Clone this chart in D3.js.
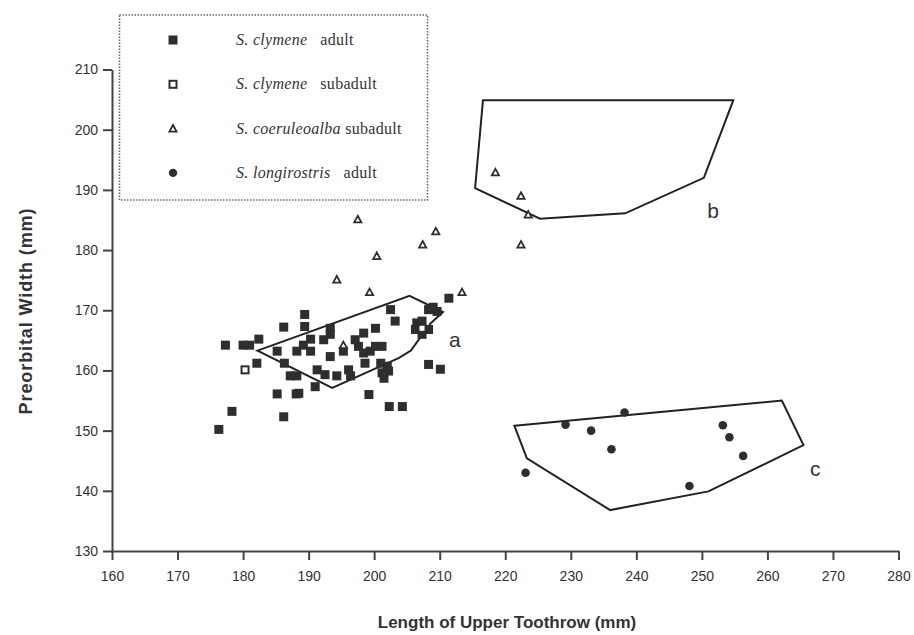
<!DOCTYPE html>
<html>
<head>
<meta charset="utf-8">
<script src="https://cdn.jsdelivr.net/npm/d3@7"></script>
<style>
  body { margin: 0; background: #fff; }
  #chart-container { width: 914px; height: 635px; }
  .axis text { font-family: Arial, "Liberation Sans", sans-serif; font-size: 14px; fill: #333; }
  .axis path, .axis line { stroke: #444; stroke-width: 2px; }
</style>
</head>
<body>
<div id="chart-container"></div>
<script>
// S. clymene adult [toothrow, preorbital]
const clymeneAdult = [
  [176.3, 150.2], [178.3, 153.2], [177.3, 164.2], [180, 164.2], [181, 164.2], [182.4, 165.2], [182.1, 161.2],
  [186.2, 167.2], [185.2, 163.2], [186.3, 161.2], [187.2, 159.1], [188.2, 159.1], [185.2, 156.1], [188.1, 156.1],
  [186.2, 152.3], [189.4, 169.3], [189.4, 167.3], [188.2, 163.2], [189.2, 164.2], [190.3, 165.2], [190.3, 163.2],
  [193.3, 167], [193.3, 166], [192.3, 165.1], [193.3, 162.3], [195.3, 163.2],
  [191.3, 160.1], [192.5, 159.3], [191, 157.3], [194.3, 159.1], [196.1, 160.1], [196.4, 159.1], [188.5, 156.2],
  [197.1, 165.1], [198.4, 166.2], [197.6, 164], [198.4, 162.9], [199.4, 163.2], [200.2, 164], [201.2, 164], [198.6, 161.2],
  [200.2, 167], [202.5, 170.1], [203.2, 168.2],
  [201, 161.2], [202, 160.7], [201.2, 159.6], [202.2, 159.9], [201.5, 158.7], [199.2, 156], [202.3, 154], [204.3, 154],
  [206.5, 167.9], [207.3, 168.2], [206.3, 166.8], [208.3, 166.8], [207.3, 166],
  [208.3, 170.1], [209.6, 169.8], [209, 170.5], [211.4, 172], [208.3, 161], [210.1, 160.2]
];
const clymeneSubadult = [[180.3, 160.1], [207.3, 167]];
const coeruleoalbaSubadult = [
  [197.5, 185.1], [209.4, 183.1], [207.4, 180.9], [200.4, 179], [194.3, 175.1], [199.3, 173],
  [213.4, 173], [195.3, 164.2], [218.5, 192.9], [222.4, 189], [223.5, 185.9], [222.4, 180.9]
];
const longirostrisAdult = [
  [223.1, 143], [229.2, 151], [233.1, 150], [238.2, 153], [236.2, 146.9],
  [248.1, 140.8], [253.2, 150.9], [254.2, 148.9], [256.3, 145.8]
];

// outline polygons
const polygonA = [[182.2, 163.3], [205.4, 172.4], [210.5, 169.7], [208.6, 167.8], [205.6, 163.3], [203.8, 162.1], [193.6, 157.1]];
const polygonB = [[216.6, 204.9], [254.8, 204.9], [250.3, 192], [238.3, 186.1], [225.3, 185.2], [215.4, 190.3]];
const polygonC = [[221.4, 150.8], [262.2, 155], [265.5, 147.6], [251, 139.9], [236, 136.8], [223.3, 145.4]];
const polygonLabels = [["a", 212.3, 163.9], ["b", 251.7, 185.4], ["c", 267.3, 142.4]];

const xTicks = [160, 170, 180, 190, 200, 210, 220, 230, 240, 250, 260, 270, 280];
const yTicks = [130, 140, 150, 160, 170, 180, 190, 200, 210];

const legendItems = [
  { shape: "square", species: "S. clymene", stage: "adult" },
  { shape: "open-square", species: "S. clymene", stage: "subadult" },
  { shape: "triangle", species: "S. coeruleoalba", stage: "subadult" },
  { shape: "circle", species: "S. longirostris", stage: "adult" }
];

const W = 914, H = 635;
const ink = "#2e2e2e";

const svg = d3.select("#chart-container")
  .append("svg")
  .attr("width", W)
  .attr("height", H);

const xScale = d3.scaleLinear().domain([160, 280]).range([112, 898.5]);
const yScale = d3.scaleLinear().domain([130, 210]).range([551, 69.5]);

// Axes
svg.append("g")
  .attr("class", "axis")
  .attr("transform", "translate(0," + yScale(130) + ")")
  .call(d3.axisBottom(xScale).tickValues(xTicks).tickSize(9).tickSizeOuter(0).tickPadding(8))
  .selectAll("text").attr("dy", "0.9em");

svg.append("g")
  .attr("class", "axis")
  .attr("transform", "translate(" + xScale(160) + ",0)")
  .call(d3.axisLeft(yScale).tickValues(yTicks).tickSize(9).tickSizeOuter(0).tickPadding(5));

// Legend box
const legend = svg.append("g").attr("id", "legend");
legend.append("rect")
  .attr("x", 119.5).attr("y", 15)
  .attr("width", 308).attr("height", 185)
  .attr("fill", "none")
  .attr("stroke", "#666")
  .attr("stroke-width", 1.6)
  .attr("stroke-dasharray", "1.5,1.5");

const rows = legend.selectAll(".legend-row")
  .data(legendItems)
  .enter()
  .append("g")
  .attr("class", "legend-row")
  .attr("transform", (d, i) => "translate(173," + (40 + i * 44.3) + ")");

function drawMarker(sel, shape) {
  if (shape === "square") {
    sel.append("rect").attr("x", -4.5).attr("y", -4.5).attr("width", 9).attr("height", 9).attr("fill", ink);
  } else if (shape === "open-square") {
    sel.append("rect").attr("x", -3.5).attr("y", -3.5).attr("width", 7).attr("height", 7)
      .attr("fill", "#fff").attr("stroke", ink).attr("stroke-width", 2);
  } else if (shape === "triangle") {
    sel.append("path").attr("d", "M0,-3.6L3.6,3L-3.6,3Z")
      .attr("fill", "#fff").attr("stroke", ink).attr("stroke-width", 1.8);
  } else {
    sel.append("circle").attr("r", 4.2).attr("fill", ink);
  }
}

rows.each(function (d) { drawMarker(d3.select(this), d.shape); });

const legendText = rows.append("text")
  .attr("x", 63)
  .attr("y", 5)
  .style("font-family", "'Liberation Serif', 'DejaVu Serif', serif")
  .style("font-size", "16px")
  .style("letter-spacing", "0.3px")
  .style("fill", "#333");
legendText.append("tspan").style("font-style", "italic").text(d => d.species);
legendText.append("tspan").text(d => (d.species === "S. coeruleoalba" ? "\u00a0" : "\u00a0\u00a0\u00a0") + d.stage);

// Polygons
const line = d3.line().x(d => xScale(d[0])).y(d => yScale(d[1])).curve(d3.curveLinearClosed);
svg.append("g")
  .selectAll("path")
  .data([polygonA, polygonB, polygonC])
  .enter()
  .append("path")
  .attr("d", line)
  .attr("fill", "none")
  .attr("stroke", "#222")
  .attr("stroke-width", 2);

svg.append("g")
  .selectAll("text")
  .data(polygonLabels)
  .enter()
  .append("text")
  .attr("x", d => xScale(d[1]))
  .attr("y", d => yScale(d[2]))
  .attr("text-anchor", "middle")
  .style("font-family", "Arial, 'Liberation Sans', sans-serif")
  .style("font-size", "21px")
  .style("fill", "#333")
  .text(d => d[0]);

// Points
svg.append("g")
  .selectAll("rect")
  .data(clymeneAdult)
  .enter()
  .append("rect")
  .attr("x", d => xScale(d[0]) - 4.5)
  .attr("y", d => yScale(d[1]) - 4.5)
  .attr("width", 9)
  .attr("height", 9)
  .attr("fill", ink);

svg.append("g")
  .selectAll("rect")
  .data(clymeneSubadult)
  .enter()
  .append("rect")
  .attr("x", d => xScale(d[0]) - 3.5)
  .attr("y", d => yScale(d[1]) - 3.5)
  .attr("width", 7)
  .attr("height", 7)
  .attr("fill", "#fff")
  .attr("stroke", ink)
  .attr("stroke-width", 2);

svg.append("g")
  .selectAll("path")
  .data(coeruleoalbaSubadult)
  .enter()
  .append("path")
  .attr("transform", d => "translate(" + xScale(d[0]) + "," + yScale(d[1]) + ")")
  .attr("d", "M0,-3.6L3.6,3L-3.6,3Z")
  .attr("fill", "#fff")
  .attr("stroke", ink)
  .attr("stroke-width", 1.8);

svg.append("g")
  .selectAll("circle")
  .data(longirostrisAdult)
  .enter()
  .append("circle")
  .attr("cx", d => xScale(d[0]))
  .attr("cy", d => yScale(d[1]))
  .attr("r", 4.3)
  .attr("fill", ink);

// Axis titles
svg.append("text")
  .attr("x", 507)
  .attr("y", 628)
  .attr("text-anchor", "middle")
  .style("font-family", "Arial, 'Liberation Sans', sans-serif")
  .style("font-weight", "bold")
  .style("font-size", "17px")
  .style("fill", "#333")
  .text("Length of Upper Toothrow (mm)");

svg.append("text")
  .attr("transform", "translate(32,311) rotate(-90)")
  .attr("text-anchor", "middle")
  .style("font-family", "Arial, 'Liberation Sans', sans-serif")
  .style("font-weight", "bold")
  .style("font-size", "18px")
  .style("letter-spacing", "0.9px")
  .style("fill", "#333")
  .text("Preorbital Width (mm)");
</script>
</body>
</html>
